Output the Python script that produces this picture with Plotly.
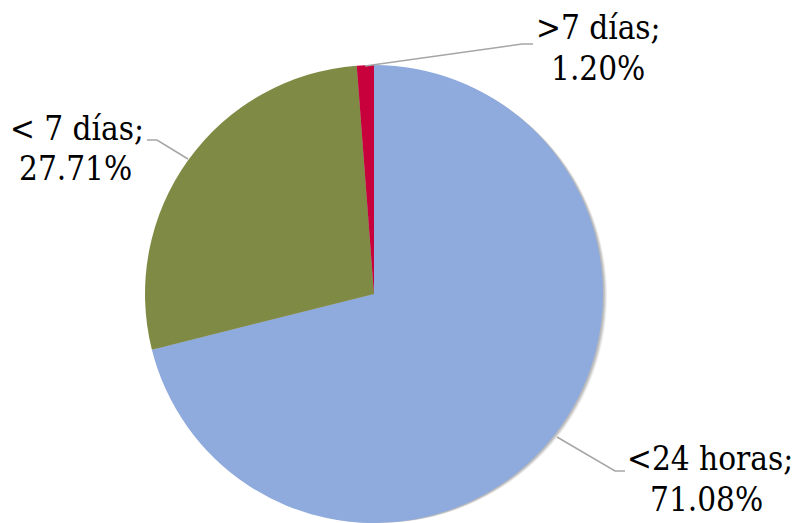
import plotly.graph_objects as go

# Share of cases by elapsed time
categories = ["<24 horas", "< 7 días", ">7 días"]
shares = [71.08, 27.71, 1.20]
colors = ["#8FAADC", "#7F8B45", "#C8003C"]

W, H = 794, 523
cx, cy, r = 374, 294, 229  # pie centre / radius in px


def dom(dx=0, dy=0):
    x0 = (cx - r + dx) / W
    x1 = (cx + r + dx) / W
    y0 = (H - (cy + r + dy)) / H
    y1 = (H - (cy - r + dy)) / H
    return dict(x=[x0, x1], y=[max(0, y0), y1])


fig = go.Figure()

# soft drop shadow under the pie
for off, alpha in [(6, 0.04), (5, 0.05), (4, 0.06), (3, 0.07), (2, 0.08)]:
    fig.add_trace(go.Pie(
        values=shares, labels=categories, sort=False, direction="clockwise",
        rotation=0, domain=dom(off, off * 0.6),
        marker=dict(colors=[f"rgba(0,0,0,{alpha})"] * 3, line=dict(width=0)),
        textinfo="none", hoverinfo="skip", showlegend=False,
    ))

fig.add_trace(go.Pie(
    values=shares, labels=categories, sort=False, direction="clockwise",
    rotation=0, domain=dom(),
    marker=dict(colors=colors, line=dict(width=0)),
    textinfo="none", hoverinfo="label+percent", showlegend=False,
))

font = dict(family="DejaVu Serif Condensed", size=33, color="#000000")

# label lines: (x, baseline y, text) in px
label_lines = [
    (598, 41, f"{categories[2]};"),
    (598, 82, f"{shares[2]:.2f}%"),
    (77, 142, f"{categories[1]};"),
    (75, 182, f"{shares[1]:.2f}%"),
    (710, 472, f"{categories[0]};"),
    (706, 513, f"{shares[0]:.2f}%"),
]
for x, yb, t in label_lines:
    fig.add_annotation(
        x=x / W, y=(H - yb) / H, xref="paper", yref="paper",
        text=t, showarrow=False, font=font,
        xanchor="center", yanchor="bottom", yshift=-8,
    )

# leader lines
leaders = [
    [(365, 66), (522, 44), (533, 44)],
    [(188, 159), (157, 140), (147, 140)],
    [(557, 437), (615, 471), (625, 471)],
]
for pts in leaders:
    path = "M " + " L ".join(f"{x / W},{(H - y) / H}" for x, y in pts)
    fig.add_shape(type="path", path=path, xref="paper", yref="paper",
                  line=dict(color="#A6A6A6", width=1.5))

fig.update_layout(
    width=W, height=H,
    margin=dict(l=0, r=0, t=0, b=0),
    paper_bgcolor="white", plot_bgcolor="white",
    showlegend=False,
)

fig.write_html("out.html")
